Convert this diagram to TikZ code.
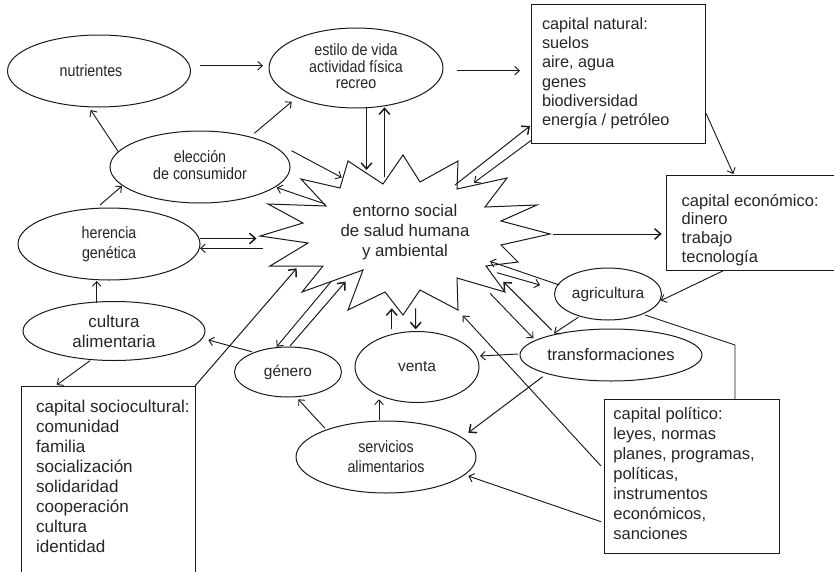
\documentclass[tikz,border=0pt]{standalone}
\usepackage{fontspec}
\setmainfont{Liberation Sans}
\newfontfamily\condf[FakeStretch=0.87]{Liberation Sans}
\usetikzlibrary{shapes.geometric,arrows.meta,calc}
\definecolor{linec}{HTML}{1A1A1A}
\definecolor{txtc}{HTML}{262626}
\newdimen\pxu \pxu=0.75pt
\newcommand\condA{\condf\fontsize{12.3pt}{15pt}\selectfont}
\newcommand\bxtext[6]{\parbox[t][#2\pxu][t]{#1\pxu}{\fontsize{12.4pt}{#5}\selectfont\raggedright\leftskip=#3\pxu\rule{0pt}{#4\pxu}#6}}
\tikzset{
  lbl/.style={text=txtc, inner sep=0pt, outer sep=0pt, align=center},
  ell/.style={draw=linec, ellipse, line width=0.75pt, inner sep=0pt, outer sep=0pt, text=txtc, align=center},
  bx/.style={draw=linec, line width=0.75pt, inner sep=0pt, outer sep=0pt, anchor=north west, text=txtc},
  con/.style={draw=linec, line width=0.7pt, -{Straight Barb[length=3.5pt,width=6.5pt]}},
  conb/.style={draw=linec, line width=0.75pt, -{Straight Barb[length=4.5pt,width=8pt,line width=1.1pt]}},
}
\begin{document}
\begin{tikzpicture}[x=0.75pt,y=-0.75pt]
\useasboundingbox (0,0) rectangle (834,571);
\fill[white] (0,0) rectangle (834,571);
\begin{scope}
\clip (0,0) rectangle (834,571);
% star
\draw[linec, line width=0.75pt, line join=miter]
 (301,179) -- (340,188) -- (348,161) -- (383,184) -- (403,155) -- (420,182) -- (458,161) -- (457,189)
 -- (507,178) -- (485,207) -- (537,205) -- (501,221) -- (550,234) -- (501,245) -- (518,262) -- (486,266)
 -- (505,292) -- (457,278) -- (458,310) -- (420,290) -- (403,315) -- (385,292) -- (348,310) -- (363,270)
 -- (302,292) -- (323,266) -- (270,266) -- (308,243) -- (260,236) -- (303,223) -- (268,204) -- (326,206) -- cycle;
\node[lbl, font=\fontsize{12.6pt}{15pt}\selectfont] (star) at (405,232) {entorno social\\de salud humana\\y ambiental};
% ellipses
\node[ell, minimum width=137.25pt, minimum height=54pt, font=\condA] (nutr) at (99,71) {nutrientes\hspace*{12pt}};
\node[ell, minimum width=130.5pt, minimum height=60pt, font=\condA] (estilo) at (356,68) {\raisebox{-2.5pt}{\begin{tabular}{@{}c@{}}estilo de vida\\[-2.6pt]actividad física\\[-2.6pt]recreo\end{tabular}}};
\node[ell, minimum width=135pt, minimum height=54pt, font=\condA] (elec) at (200,167) {\raisebox{2.5pt}{\begin{tabular}{@{}c@{}}elección\\[-2.6pt]de consumidor\end{tabular}}};
\node[ell, minimum width=136.5pt, minimum height=54pt, font=\condA] (her) at (109,244) {herencia\\genética};
\node[ell, minimum width=136.5pt, minimum height=44.25pt, font=\fontsize{12.75pt}{15pt}\selectfont] (cult) at (114,331) {cultura\\alimentaria};
\node[ell, minimum width=80.25pt, minimum height=37.5pt, font=\fontsize{11.6pt}{15pt}\selectfont] (gen) at (288,372) {género};
\node[ell, minimum width=93pt, minimum height=53.25pt, font=\fontsize{11.6pt}{15pt}\selectfont] (venta) at (417,367) {venta};
\node[ell, minimum width=135pt, minimum height=54pt, font=\condA] (serv) at (386,457) {servicios\\alimentarios};
\node[ell, minimum width=80.25pt, minimum height=39pt, font=\fontsize{11.6pt}{15pt}\selectfont] (agri) at (608,294) {agricultura};
\node[ell, minimum width=136.5pt, minimum height=39pt, font=\fontsize{12.45pt}{15pt}\selectfont] (transf) at (611,355) {transformaciones};
% boxes
\node[bx] (nat) at (531,4) {\bxtext{174}{139}{11}{25}{14.5pt}{\fontsize{12.2pt}{14.5pt}\selectfont capital natural:\\suelos\\aire, agua\\genes\\biodiversidad\\energía / petróleo}};
\node[bx] (econ) at (666,175) {\bxtext{260}{95.7}{15.7}{31}{14.2pt}{capital económico:\\dinero\\trabajo\\tecnología}};
\node[bx] (socio) at (21,386) {\bxtext{174}{200}{15}{26}{15pt}{\fontsize{12.8pt}{15pt}\selectfont capital sociocultural:\\comunidad\\familia\\socialización\\solidaridad\\cooperación\\cultura\\identidad}};
\node[bx] (pol) at (604,399.3) {\bxtext{175}{154}{9.3}{20}{15pt}{capital político:\\leyes, normas\\planes, programas,\\políticas,\\instrumentos\\económicos,\\sanciones}};
% connectors
\draw[con] ($(nutr)+(101,-5.3)$) -- ($(estilo)+(-93,-2.3)$);
\draw[con] ($(estilo)+(101.3,2.7)$) -- ($(nat.north west)+(-11,66.7)$);
\draw[con] ($(elec)+(-81.7,-15.3)$) -- ($(nutr)+(-8.3,39)$);
\draw[con] ($(elec)+(54.3,-33.7)$) -- ($(estilo)+(-64.3,33.7)$);
\draw[conb] ($(estilo)+(10.5,40.3)$) -- ($(star)+(-38.5,-62)$);
\draw[conb] ($(star)+(-20.5,-55.5)$) -- ($(estilo)+(28.5,39.3)$);
\draw[con] ($(elec)+(91.5,-16.3)$) -- ($(star)+(-63.3,-54.5)$);
\draw[con] ($(star)+(-80,-28)$) -- ($(elec)+(76.7,20.5)$);
\draw[con] ($(her)+(-9,-39)$) -- ($(elec)+(-78,19)$);
\draw[conb] ($(her)+(91,-5.5)$) -- ($(star)+(-148.5,6.5)$);
\draw[con] ($(star)+(-141.7,16.3)$) -- ($(her)+(91,4.3)$);
\draw[con] ($(cult)+(-17.3,-27.7)$) -- ($(her)+(-12.3,37)$);
\draw[con] ($(cult)+(-24,29.7)$) -- ($(socio.north west)+(35.7,-1)$);
\draw[conb] (socio.north east) -- ($(star)+(-108.3,36.3)$);
\draw[con] ($(gen)+(-36.3,-20.3)$) -- ($(cult)+(94.3,9)$);
\draw[con] ($(star)+(-74,49.7)$) -- ($(gen)+(-11.3,-25.3)$);
\draw[conb] ($(gen)+(2,-26)$) -- ($(star)+(-59.5,49.7)$);
\draw[con] ($(serv)+(-61,-28.7)$) -- ($(gen)+(10.3,27.3)$);
\draw[con] ($(serv)+(-7,-37)$) -- ($(venta)+(-38,32.3)$);
\draw[conb] ($(venta)+(-25.3,-37.7)$) -- ($(star)+(-13.3,76.3)$);
\draw[conb] ($(star)+(10.7,76.3)$) -- ($(venta)+(-1.3,-37.7)$);
\draw[con] ($(transf)+(-92.7,-1)$) -- ($(venta)+(63,-11)$);
\draw[conb] ($(transf)+(-68.3,21.7)$) -- ($(serv)+(82.3,-24.3)$);
\draw[con] ($(pol.north west)+(-3,122.4)$) -- ($(serv)+(82.3,19)$);
\draw[con] ($(pol.north west)+(-3,66.7)$) -- ($(star)+(57.7,83.5)$);
\draw[con] ($(star)+(92,40.7)$) -- ($(agri)+(-68,-9)$);
\draw[con] ($(agri)+(-48.7,-9)$) -- ($(star)+(85,29.3)$);
\draw[con] ($(star)+(85,61.3)$) -- ($(transf)+(-77.7,-16.7)$);
\draw[conb] ($(transf)+(-59.3,-25)$) -- ($(star)+(98.3,49.7)$);
\draw[con] ($(agri)+(-29.7,23.3)$) -- ($(transf)+(-57,-21.7)$);
\draw[con] ($(econ.north west)+(57.3,95.7)$) -- ($(agri)+(52.7,6.7)$);
\draw[con] ($(nat.north west)+(175,109.3)$) -- ($(econ.north west)+(67.3,-1)$);
\draw[conb] ($(star)+(50,-47)$) -- ($(nat.north west)+(-1,122)$);
\draw[con] ($(nat.north west)+(0.7,136)$) -- ($(star)+(69,-49.3)$);
\draw[conb] ($(star)+(148.3,2)$) -- ($(econ.north west)+(-4.3,59)$);
\draw[linec, line width=0.7pt] ($(agri)+(37,21)$) -- ($(pol.north west)+(131,-54.3)$) -- ($(pol.north west)+(131,0)$);
\end{scope}
\end{tikzpicture}
\end{document}
